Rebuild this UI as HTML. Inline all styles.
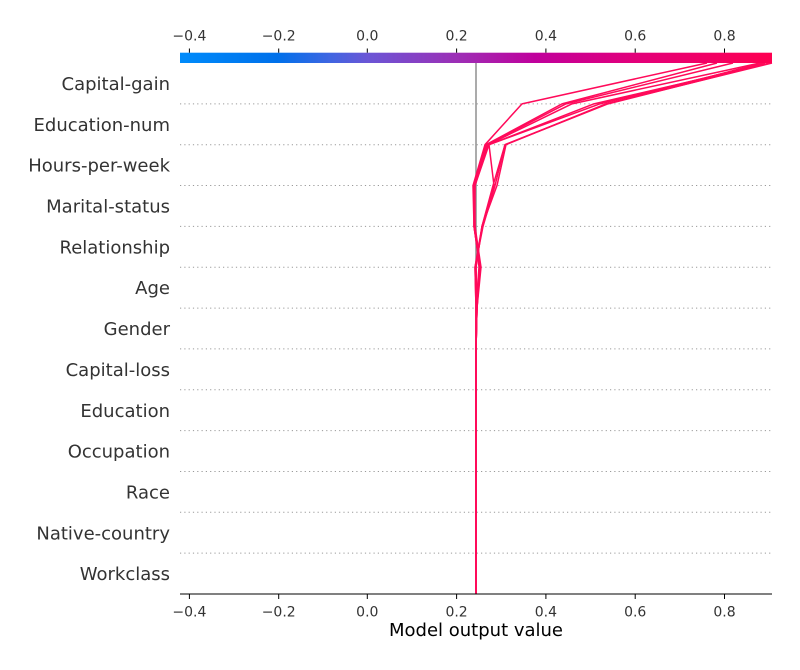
<!DOCTYPE html>
<html>
<head>
<meta charset="utf-8">
<style>
html,body{margin:0;padding:0;background:#fff;}
svg{display:block;}
text{font-family:"DejaVu Sans","Liberation Sans",sans-serif;}
</style>
</head>
<body>
<svg width="800" height="670" viewBox="0 0 800 670" xmlns="http://www.w3.org/2000/svg">
<defs>
<linearGradient id="cb" x1="0" x2="1" y1="0" y2="0">
<stop offset="0" stop-color="#008bfb"/>
<stop offset="0.165" stop-color="#0070ea"/>
<stop offset="0.25" stop-color="#3d66e2"/>
<stop offset="0.316" stop-color="#6a56d6"/>
<stop offset="0.467" stop-color="#9c2fb6"/>
<stop offset="0.60" stop-color="#c0009c"/>
<stop offset="0.77" stop-color="#e3007a"/>
<stop offset="1" stop-color="#ff0051"/>
</linearGradient>
</defs>

<!-- dotted grid lines -->
<g stroke="#9a9a9a" stroke-width="1" stroke-dasharray="1.2 3.1">
<line x1="180" x2="772" y1="553.15" y2="553.15"/>
<line x1="180" x2="772" y1="512.31" y2="512.31"/>
<line x1="180" x2="772" y1="471.46" y2="471.46"/>
<line x1="180" x2="772" y1="430.62" y2="430.62"/>
<line x1="180" x2="772" y1="389.77" y2="389.77"/>
<line x1="180" x2="772" y1="348.92" y2="348.92"/>
<line x1="180" x2="772" y1="308.08" y2="308.08"/>
<line x1="180" x2="772" y1="267.23" y2="267.23"/>
<line x1="180" x2="772" y1="226.38" y2="226.38"/>
<line x1="180" x2="772" y1="185.54" y2="185.54"/>
<line x1="180" x2="772" y1="144.69" y2="144.69"/>
<line x1="180" x2="772" y1="103.85" y2="103.85"/>
</g>

<!-- base value line -->
<line x1="476" x2="476" y1="63" y2="594" stroke="#8f8f8f" stroke-width="1.5"/>

<!-- decision lines -->
<g fill="none" stroke="#ff0a5a" stroke-width="1.5" stroke-linejoin="round">
<polyline points="476,594 476,553.15 476,512.31 476,471.46 476,430.62 476,389.77 476,348.92 477,308.08 480,267.23 474,226.38 473,185.54 485,144.69 522,103.85 707,63"/>
<polyline points="476,594 476,553.15 476,512.31 476,471.46 476,430.62 476,389.77 476,348.92 477,308.08 481,267.23 475,226.38 474,185.54 486,144.69 562,103.85 717,63"/>
<polyline points="476,594 476,553.15 476,512.31 476,471.46 476,430.62 476,389.77 476,348.92 477,308.08 480,267.23 474,226.38 474,185.54 487,144.69 566,103.85 733,63"/>
<polyline points="476,594 476,553.15 476,512.31 476,471.46 476,430.62 476,389.77 476,348.92 476,308.08 479,267.23 475,226.38 475,185.54 488,144.69 572,103.85 760,63"/>
<polyline points="476,594 476,553.15 476,512.31 476,471.46 476,430.62 476,389.77 476,348.92 476,308.08 480,267.23 474,226.38 475,185.54 489,144.69 594,103.85 770,63"/>
<polyline points="476,594 476,553.15 476,512.31 476,471.46 476,430.62 476,389.77 476,348.92 477,308.08 476,267.23 482,226.38 494,185.54 489,144.69 600,103.85 765,63"/>
<polyline points="476,594 476,553.15 476,512.31 476,471.46 476,430.62 476,389.77 476,348.92 476,308.08 475,267.23 482,226.38 493,185.54 505,144.69 607,103.85 762,63"/>
<polyline points="476,594 476,553.15 476,512.31 476,471.46 476,430.62 476,389.77 476,348.92 476,308.08 475,267.23 483,226.38 495,185.54 505,144.69 608,103.85 770,63"/>
<polyline points="476,594 476,553.15 476,512.31 476,471.46 476,430.62 476,389.77 476,348.92 477,308.08 476,267.23 482,226.38 497,185.54 506,144.69 606,103.85 772,63"/>
</g>

<!-- colorbar -->
<rect x="180" y="52.7" width="592" height="10.3" fill="url(#cb)"/>
<g stroke="#000" stroke-width="1">
<line x1="189.4" x2="189.4" y1="48.5" y2="52.7"/>
<line x1="278.7" x2="278.7" y1="48.5" y2="52.7"/>
<line x1="367.3" x2="367.3" y1="48.5" y2="52.7"/>
<line x1="456.6" x2="456.6" y1="48.5" y2="52.7"/>
<line x1="545.9" x2="545.9" y1="48.5" y2="52.7"/>
<line x1="635.2" x2="635.2" y1="48.5" y2="52.7"/>
<line x1="724.5" x2="724.5" y1="48.5" y2="52.7"/>
</g>
<g font-size="14" fill="#333" text-anchor="middle">
<text x="189.4" y="40.7">−0.4</text>
<text x="278.7" y="40.7">−0.2</text>
<text x="367.3" y="40.7">0.0</text>
<text x="456.6" y="40.7">0.2</text>
<text x="545.9" y="40.7">0.4</text>
<text x="635.2" y="40.7">0.6</text>
<text x="724.5" y="40.7">0.8</text>
</g>

<!-- bottom axis -->
<line x1="180" x2="772" y1="594" y2="594" stroke="#000" stroke-width="1.1"/>
<g stroke="#000" stroke-width="1">
<line x1="189.4" x2="189.4" y1="594" y2="599"/>
<line x1="278.7" x2="278.7" y1="594" y2="599"/>
<line x1="367.3" x2="367.3" y1="594" y2="599"/>
<line x1="456.6" x2="456.6" y1="594" y2="599"/>
<line x1="545.9" x2="545.9" y1="594" y2="599"/>
<line x1="635.2" x2="635.2" y1="594" y2="599"/>
<line x1="724.5" x2="724.5" y1="594" y2="599"/>
</g>
<g font-size="14" fill="#333" text-anchor="middle">
<text x="189.4" y="616.5">−0.4</text>
<text x="278.7" y="616.5">−0.2</text>
<text x="367.3" y="616.5">0.0</text>
<text x="456.6" y="616.5">0.2</text>
<text x="545.9" y="616.5">0.4</text>
<text x="635.2" y="616.5">0.6</text>
<text x="724.5" y="616.5">0.8</text>
</g>
<text x="476" y="636" font-size="18" fill="#000" text-anchor="middle">Model output value</text>

<!-- feature labels -->
<g font-size="18" fill="#333" text-anchor="end">
<text x="170" y="90">Capital-gain</text>
<text x="170" y="130.8">Education-num</text>
<text x="170" y="171.7">Hours-per-week</text>
<text x="170" y="212.5">Marital-status</text>
<text x="170" y="253.4">Relationship</text>
<text x="170" y="294.2">Age</text>
<text x="170" y="335.1">Gender</text>
<text x="170" y="375.9">Capital-loss</text>
<text x="170" y="416.8">Education</text>
<text x="170" y="457.6">Occupation</text>
<text x="170" y="498.5">Race</text>
<text x="170" y="539.3">Native-country</text>
<text x="170" y="580.2">Workclass</text>
</g>
</svg>
</body>
</html>
